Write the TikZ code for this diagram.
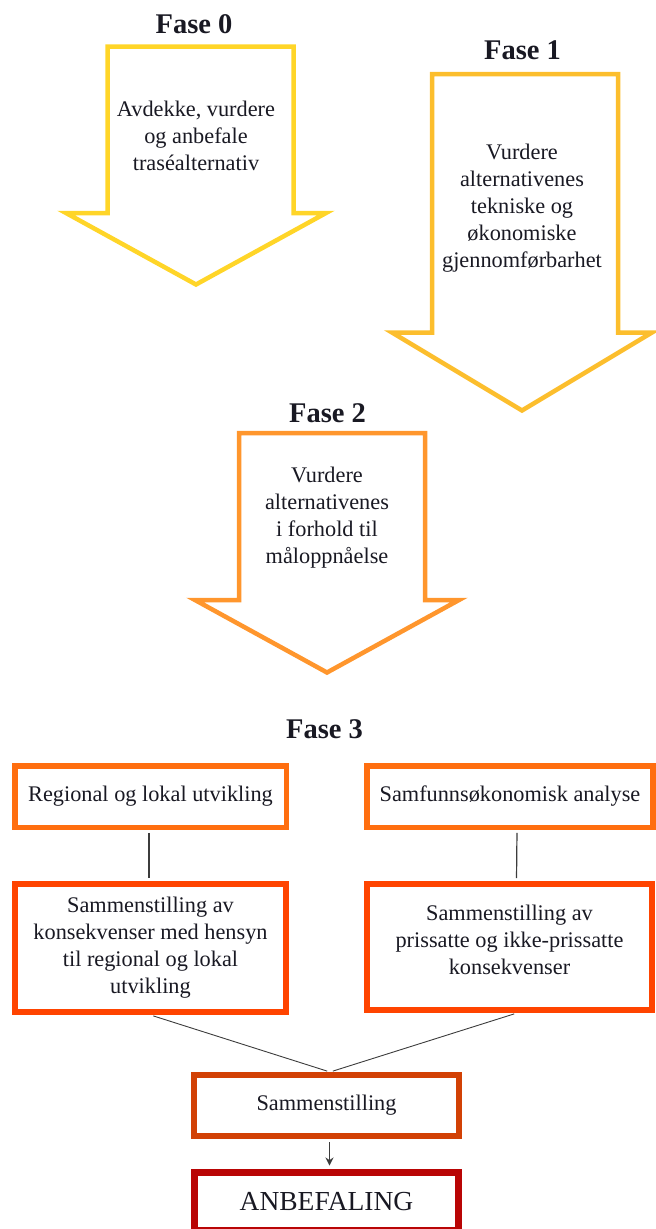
\documentclass[tikz,border=0pt]{standalone}
\usepackage{fontspec}
\setmainfont{Liberation Serif}
\usetikzlibrary{arrows.meta}
\definecolor{arrowA}{RGB}{255,213,40}
\definecolor{arrowB}{RGB}{252,190,45}
\definecolor{arrowC}{RGB}{255,150,45}
\definecolor{boxA}{RGB}{255,110,15}
\definecolor{boxC}{RGB}{255,68,0}
\definecolor{boxS}{RGB}{210,65,5}
\definecolor{boxR}{RGB}{185,5,5}
\definecolor{txt}{RGB}{25,25,35}
\definecolor{linkgray}{RGB}{60,60,60}
\begin{document}
\begin{tikzpicture}[x=1pt,y=-1pt,
  phasearrow/.style={line width=4.5pt, line join=miter, fill=white},
  phaselabel/.style={font=\fontsize{28.5}{34}\selectfont\bfseries, text=txt, inner sep=0pt},
  arrowtext/.style={font=\fontsize{22.3}{27}\selectfont, align=center, text=txt, inner sep=0pt},
  stagebox/.style={draw, line width=5.5pt, fill=white, font=\fontsize{22.3}{27}\selectfont, align=center, inner sep=0pt, text=txt},
  link/.style={draw=linkgray, line width=1.2pt}
]
\useasboundingbox (0,0) rectangle (656,1229);

% Fase 0
\node[phaselabel] (f0) at (194,24) {Fase 0};
\draw[phasearrow, draw=arrowA] (107.5,46.5) -- (293.5,46.5) -- (293.5,213) -- (326,213) -- (196,284.5) -- (66,213) -- (107.5,213) -- cycle;
\node[arrowtext] (t0) at (196,135.5) {Avdekke, vurdere\\og anbefale\\traséalternativ};

% Fase 1
\node[phaselabel] (f1) at (522.5,50.5) {Fase 1};
\draw[phasearrow, draw=arrowB] (432,74) -- (618,74) -- (618,332.5) -- (652,332.5) -- (522,410.5) -- (392,332.5) -- (432,332.5) -- cycle;
\node[arrowtext] (t1) at (522,208.5) {Vurdere\\alternativenes\\tekniske og\\økonomiske\\gjennomførbarhet};

% Fase 2
\node[phaselabel] (f2) at (327.5,413.5) {Fase 2};
\draw[phasearrow, draw=arrowC] (239,433) -- (425,433) -- (425,600) -- (459,600) -- (327,672.5) -- (195,600) -- (239,600) -- cycle;
\node[arrowtext] (t2) at (327,518) {Vurdere\\alternativenes\\i forhold til\\måloppnåelse};

% Fase 3
\node[phaselabel] (f3) at (324.5,729) {Fase 3};

\node[stagebox, draw=boxA, minimum width=271.5pt, minimum height=61.5pt] (A) at (150.5,796.5) {Regional og lokal utvikling};
\node[stagebox, draw=boxA, minimum width=286pt, minimum height=61.5pt] (B) at (510,796.5) {Samfunnsøkonomisk analyse};
\node[stagebox, line width=6pt, draw=boxC, minimum width=271pt, minimum height=128pt] (C) at (150.5,948) {Sammenstilling av\\konsekvenser med hensyn\\til regional og lokal\\utvikling};
\node[stagebox, line width=6pt, draw=boxC, minimum width=285pt, minimum height=126pt] (D) at (509.5,947) {};
\node[arrowtext] (Dt) at (509.5,939.5) {Sammenstilling av\\prissatte og ikke-prissatte\\konsekvenser};
\node[stagebox, line width=6pt, draw=boxS, minimum width=265pt, minimum height=61pt] (S) at (326.5,1105.5) {Sammenstilling};
\node[stagebox, line width=7pt, draw=boxR, minimum width=264pt, minimum height=58pt, font=\fontsize{27.5}{32}\selectfont] (R) at (326.5,1201.5) {ANBEFALING};

% connectors
\draw[link, shorten <=2.75pt, shorten >=3pt] ([xshift=-1.5pt]A.south) -- ([xshift=-1.5pt]C.north);
\draw[link, shorten <=2.75pt, shorten >=3pt] ([xshift=7pt]B.south) -- ([xshift=7pt]D.north);
\draw[link, line width=0.9pt, shorten <=3pt, shorten >=3pt] (C.south) -- ([xshift=3.5pt]S.north);
\draw[link, line width=0.9pt, shorten <=3pt, shorten >=3pt] ([xshift=7.5pt]D.south) -- ([xshift=3.5pt]S.north);
\draw[link, -{Stealth[length=8pt,width=8pt]}, shorten <=3pt, shorten >=3.5pt] ([xshift=3pt]S.south) -- ([xshift=3pt]R.north);
\end{tikzpicture}
\end{document}
